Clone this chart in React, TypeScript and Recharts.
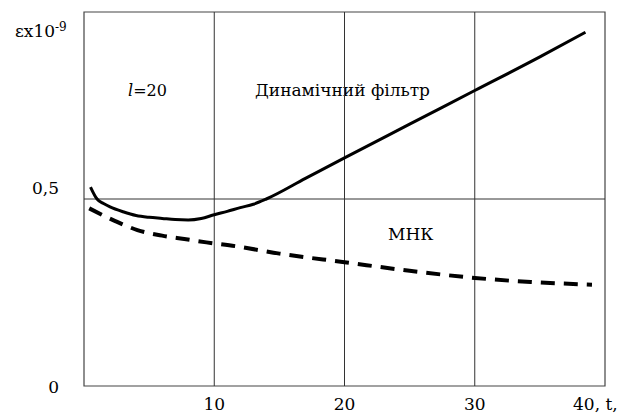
import React from 'react';
import {
  LineChart,
  Line,
  XAxis,
  YAxis,
  ReferenceLine,
  ReferenceArea,
  Customized,
} from 'recharts';

// t values and the two error curves (εx10^-9)
const tValues = [0.5, 1, 1.5, 2, 3, 4, 5, 6, 7, 8, 9, 10, 11, 12, 13, 14, 17, 20, 25, 30, 35, 38.5];
const dynamicFilter = [0.532, 0.5, 0.488, 0.479, 0.466, 0.456, 0.451, 0.448, 0.445, 0.444, 0.448, 0.458, 0.467, 0.477, 0.486, 0.5, 0.555, 0.61, 0.7, 0.79, 0.88, 0.946];
const mnkT = [0.4, 2.4, 4.1, 6, 7.7, 9.4, 11.6, 15, 20, 25, 30, 34.3, 39];
const mnk = [0.475, 0.441, 0.417, 0.402, 0.393, 0.384, 0.374, 0.354, 0.331, 0.308, 0.289, 0.278, 0.271];

const xTicks = [10, 20, 30, 40];
const yTicks = [0, 0.5];
const gridX = [10, 20, 30];

const FONT = 'DejaVu Serif';
const textStyle = { fontFamily: FONT, fontSize: 17 };

const dynData = tValues.map((t, i) => ({ t, dyn: dynamicFilter[i] }));
const mnkData = mnkT.map((t, i) => ({ t, mnk: mnk[i] }));

const XTick = ({ x, payload }: any) => {
  if (payload.value === 40) {
    return (
      <text x={x - 32} y={410} style={textStyle} fill="#000" textAnchor="start">
        40, t,
      </text>
    );
  }
  return (
    <text x={x} y={410} style={textStyle} fill="#000" textAnchor="middle">
      {payload.value}
    </text>
  );
};

const YTick = ({ y, payload }: any) => {
  const label = payload.value === 0 ? '0' : '0,5';
  const dy = payload.value === 0 ? 7 : -5;
  return (
    <text x={59} y={y + dy} style={textStyle} fill="#000" textAnchor="end">
      {label}
    </text>
  );
};

const Labels = () => (
  <g fill="#000">
    <text x={15} y={37} style={textStyle}>
      εx10<tspan style={{ fontSize: 12 }} dy={-6}>-9</tspan>
    </text>
    <text x={128} y={96} style={{ ...textStyle, fontSize: 16 }}>
      <tspan style={{ fontStyle: 'italic' }}>l</tspan>=20
    </text>
    <rect x={252} y={75} width={180} height={32} fill="#fff" />
    <text x={255} y={96} style={textStyle}>
      Динамічний фільтр
    </text>
    <text x={388} y={240} style={textStyle}>
      МНК
    </text>
  </g>
);

const App: React.FC = () => {
  return (
    <div style={{ position: 'absolute', left: 0, top: 0, width: 623, height: 414, background: '#fff' }}>
      <LineChart width={623} height={414} margin={{ top: 12, right: 18, bottom: 0, left: 0 }}>
        <XAxis
          dataKey="t"
          type="number"
          domain={[0, 40]}
          ticks={xTicks}
          tick={<XTick />}
          tickLine={false}
          axisLine={false}
          height={28}
          allowDataOverflow
        />
        <YAxis
          type="number"
          domain={[0, 1]}
          ticks={yTicks}
          tick={<YTick />}
          tickLine={false}
          axisLine={false}
          width={84}
          allowDataOverflow
        />
        <ReferenceArea x1={0} x2={40} y1={0} y2={1} fill="none" stroke="#444" strokeWidth={1.2} />
        {gridX.map((v) => (
          <ReferenceLine key={v} x={v} stroke="#333" strokeWidth={1} />
        ))}
        <ReferenceLine y={0.5} stroke="#333" strokeWidth={1} />
        <Customized component={<Labels />} />
        <Line
          data={dynData}
          dataKey="dyn"
          type="monotone"
          stroke="#000"
          strokeWidth={3}
          dot={false}
          isAnimationActive={false}
        />
        <Line
          data={mnkData}
          dataKey="mnk"
          type="monotone"
          stroke="#000"
          strokeWidth={4}
          strokeDasharray="14 9"
          dot={false}
          isAnimationActive={false}
        />
      </LineChart>
    </div>
  );
};

export default App;
